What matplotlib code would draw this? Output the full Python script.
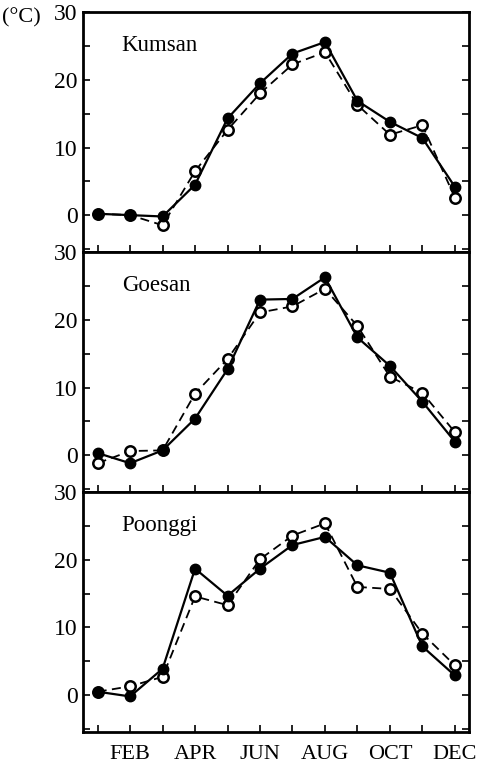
import matplotlib
matplotlib.use("Agg")
import matplotlib.pyplot as plt
from matplotlib.ticker import MultipleLocator

plt.rcParams['font.family'] = ['Liberation Serif', 'DejaVu Serif']

months = list(range(1, 13))
month_labels = ["", "FEB", "", "APR", "", "JUN", "", "AUG", "", "OCT", "", "DEC"]
stations = ["Kumsan", "Goesan", "Poonggi"]

kumsan_solid = [0.2, 0.0, -0.2, 4.5, 14.3, 19.5, 23.9, 25.6, 16.9, 13.8, 11.4, 4.2]
kumsan_dashed = [0.2, 0.0, -1.5, 6.5, 12.6, 18.0, 22.3, 24.1, 16.3, 11.9, 13.3, 2.6]

goesan_solid = [0.3, -1.2, 0.7, 5.4, 12.7, 23.0, 23.1, 26.3, 17.4, 13.2, 7.9, 2.0]
goesan_dashed = [-1.2, 0.6, 0.7, 9.1, 14.2, 21.1, 22.0, 24.6, 19.1, 11.6, 9.2, 3.4]

poonggi_solid = [0.5, -0.2, 3.9, 18.7, 14.7, 18.7, 22.2, 23.4, 19.2, 18.1, 7.2, 2.9]
poonggi_dashed = [0.5, 1.3, 2.7, 14.6, 13.3, 20.1, 23.6, 25.4, 16.0, 15.7, 9.1, 4.4]

solid = [kumsan_solid, goesan_solid, poonggi_solid]
dashed = [kumsan_dashed, goesan_dashed, poonggi_dashed]

fig = plt.figure(figsize=(4.8, 7.7), dpi=100)
left, right = 0.173, 0.978
top, bottom = 0.984, 0.049
h = (top - bottom) / 3

for i in range(3):
    ax = fig.add_axes([left, top - (i + 1) * h, right - left, h])
    ax.plot(months, dashed[i], color='black', lw=1.3, ls=(0, (5, 3)),
            marker='o', ms=7.5, mfc='white', mec='black', mew=1.8, zorder=3)
    ax.plot(months, solid[i], color='black', lw=1.6, ls='-',
            marker='o', ms=7.5, mfc='black', mec='black', zorder=4)
    ax.set_xlim(0.55, 12.45)
    ax.set_ylim(-5.5, 30)
    ax.set_yticks([0, 10, 20, 30])
    ax.yaxis.set_minor_locator(MultipleLocator(5))
    ax.set_xticks(months)
    if i == 2:
        ax.set_xticklabels(month_labels)
    else:
        ax.set_xticklabels([])
    ax.tick_params(axis='x', direction='in', length=5, width=1.2, top=False,
                   labelsize=16, pad=9)
    ax.tick_params(axis='y', which='both', direction='in', left=True, right=True,
                   width=1.2, labelsize=17, pad=4)
    ax.tick_params(axis='y', which='major', length=5)
    ax.tick_params(axis='y', which='minor', length=5)
    for sp in ax.spines.values():
        sp.set_linewidth(2)
    ax.text(0.1, 0.86, stations[i], transform=ax.transAxes, fontsize=16.5,
            ha='left', va='center')

fig.text(0.005, 0.977, "(°C)", fontsize=16, ha='left', va='center')

fig.savefig("out.png", dpi=100)
